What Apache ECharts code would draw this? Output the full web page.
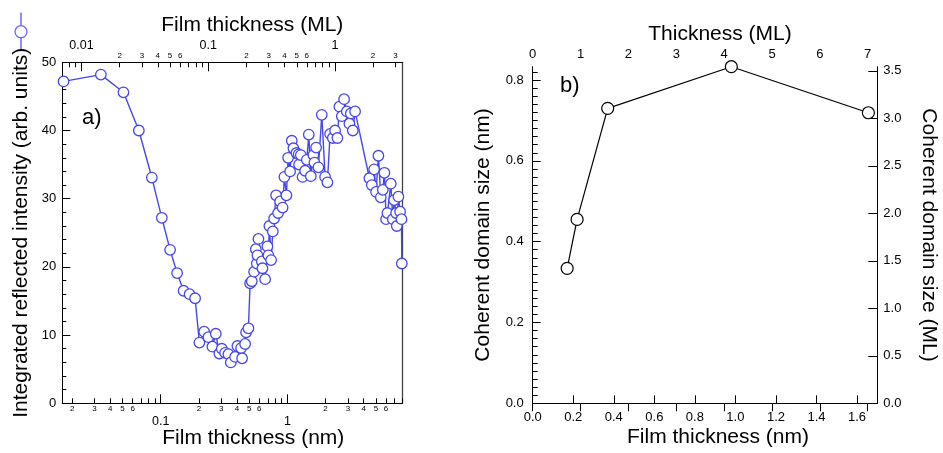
<!DOCTYPE html>
<html><head><meta charset="utf-8">
<script src="https://cdn.jsdelivr.net/npm/echarts@6/dist/echarts.min.js"></script>
<style>html,body{margin:0;padding:0;background:#fff}#c{width:943px;height:453px}</style>
</head><body><div id="c"></div>
<script>
// ---------- Panel a) data ----------
const filmNm = [0.0171,0.0337,0.0508,0.0672,0.0851,0.102,0.1186,0.1347,0.1516,0.169,0.1868,
0.202,0.2202,0.2379,0.2559,0.2721,0.2905,0.3035,0.3223,0.3422,0.3575,0.3865,0.403,0.4311,0.439,0.4636,0.4721,0.4923,
0.5077,0.5236,0.5461,0.5632,0.5736,0.5799,0.5906,0.6281,0.635,0.6668,0.6952,0.7079,0.7209,0.7436,0.767,0.7853,
0.8144,0.8445,0.8757,0.9165,0.9469,0.982,1.013,1.05,1.083,1.115,1.178,1.226,1.237,1.276,1.318,1.38,1.423,1.475,
1.53,1.604,1.633,1.685,1.757,1.868,1.984,2.069,2.173,2.282,2.379,2.481,2.573,2.688,2.803,2.943,3.086,3.165,3.282,3.422,
4.438,4.636,4.834,5.013,5.226,5.46,5.662,5.829,6.012,6.157,6.549,6.791,6.953,7.211,7.304,7.518,7.753,7.95,8.0];
const intensity = [47.2,48.2,45.6,40.0,33.1,27.2,22.5,19.1,16.5,16.0,15.4,
8.9,10.5,9.7,8.3,10.2,7.3,8.0,7.4,7.2,6.0,6.8,8.4,8.1,6.6,8.7,10.4,11.0,
17.6,17.9,19.3,22.6,20.5,21.7,24.1,20.8,19.8,18.2,23.0,21.7,26.0,21.0,25.2,27.1,
30.5,27.9,29.6,28.7,33.2,30.5,36.0,34.0,38.5,37.4,36.7,36.5,35.0,36.4,33.2,34.1,35.7,39.4,
33.3,36.4,35.3,37.5,34.6,42.3,33.2,32.4,39.5,38.9,40.0,38.9,43.5,42.1,44.6,42.8,41.0,42.5,40.0,42.8,
33.0,32.0,34.3,31.0,36.3,30.2,31.3,33.8,27.0,27.9,32.2,27.0,29.8,27.9,26.0,30.3,28.1,27.0,20.5];

// axis ticks panel a)
const nmMajorTicks = [0.1, 1];
const nmMinorTicks = [0.02,0.03,0.04,0.05,0.06,0.07,0.08,0.09,0.2,0.3,0.4,0.5,0.6,0.7,0.8,0.9,2,3,4,5,6,7,8];
const nmMinorLabels = [0.02,0.03,0.04,0.05,0.06,0.2,0.3,0.4,0.5,0.6,2,3,4,5,6];
const mlMajorTicks = [0.01, 0.1, 1];
const mlMinorTicks = [0.008,0.009,0.02,0.03,0.04,0.05,0.06,0.07,0.08,0.09,0.2,0.3,0.4,0.5,0.6,0.7,0.8,0.9,2,3];
const mlMinorLabels = [0.02,0.03,0.04,0.05,0.06,0.2,0.3,0.4,0.5,0.6,2,3];

// ---------- Panel b) data ----------
const filmNmB = [0.170, 0.219, 0.370, 0.980, 1.656];
const domainNm = [0.334, 0.455, 0.730, 0.833, 0.719];
const bBottomTicks = [0,0.2,0.4,0.6,0.8,1.0,1.2,1.4,1.6];
const bTopTicks = [0,1,2,3,4,5,6,7];
const bLeftTicks = [0,0.2,0.4,0.6,0.8];
const bRightTicks = [0,0.5,1.0,1.5,2.0,2.5,3.0,3.5];
const bLeftMinor = [];
for (let i = 0; i <= 41; i++) bLeftMinor.push(+(i*0.02).toFixed(2));

const FONT = '"Liberation Sans", Arial, Helvetica, sans-serif';
const BLK = '#000';
const BLUE = '#4646ee';

const majorFmt = v => v >= 1 ? String(Math.round(v)) : String(+v.toPrecision(1));
const minorFmt = v => String(Math.round(v / Math.pow(10, Math.floor(Math.log10(v) + 1e-9))));
const f1 = v => (+v).toFixed(1);

const nmMin = 0.01672, nmMax = 8.07;
const mlMin = 0.00705, mlMax = 3.403;

function lbl(o) { return Object.assign({color: BLK, fontFamily: FONT, showMinLabel: true, showMaxLabel: true}, o); }
function nameStyle(o) { return Object.assign({color: BLK, fontFamily: FONT, fontSize: 21, lineHeight: 21}, o || {}); }
const line = {show: true, lineStyle: {color: BLK, width: 1}};
const noLine = {show: false};

const chart = echarts.init(document.getElementById('c'), null, {renderer: 'canvas'});
chart.setOption({
  animation: false,
  backgroundColor: '#fff',
  grid: [
    {left: 62.3, right: 943 - 402.3, top: 62.3, bottom: 453 - 403.3, outerBoundsMode: 'none'},
    {left: 532.7, right: 943 - 877.3, top: 66.7, bottom: 453 - 403.3, outerBoundsMode: 'none'}
  ],
  xAxis: [
    // 0: bottom nm major (data axis)
    {type: 'log', logBase: 10, gridIndex: 0, position: 'bottom', min: nmMin, max: nmMax,
     axisLine: line, splitLine: {show: false},
     axisTick: {inside: true, length: 9, customValues: nmMajorTicks, lineStyle: {color: BLK}},
     axisLabel: lbl({customValues: nmMajorTicks, formatter: majorFmt, fontSize: 12.5, margin: 12}),
     name: 'Film thickness (nm)', nameLocation: 'middle', nameGap: 24.5, nameMoveOverlap: false,
     nameTextStyle: nameStyle({padding: [0, 0, 0, 42]})},
    // 1: bottom nm minor
    {type: 'log', logBase: 10, gridIndex: 0, position: 'bottom', min: nmMin, max: nmMax,
     axisLine: noLine, splitLine: {show: false},
     axisTick: {inside: true, length: 5, customValues: nmMinorTicks, lineStyle: {color: BLK}},
     axisLabel: lbl({customValues: nmMinorLabels, formatter: minorFmt, fontSize: 8, margin: 1.5})},
    // 2: top ML major
    {type: 'log', logBase: 10, gridIndex: 0, position: 'top', min: mlMin, max: mlMax,
     axisLine: line, splitLine: {show: false},
     axisTick: {inside: true, length: 9, customValues: mlMajorTicks, lineStyle: {color: BLK}},
     axisLabel: lbl({customValues: mlMajorTicks, formatter: majorFmt, fontSize: 12.5, margin: 10}),
     name: 'Film thickness (ML)', nameLocation: 'middle', nameGap: 27, nameMoveOverlap: false,
     nameTextStyle: nameStyle({padding: [0, 0, 0, 40]})},
    // 3: top ML minor
    {type: 'log', logBase: 10, gridIndex: 0, position: 'top', min: mlMin, max: mlMax,
     axisLine: noLine, splitLine: {show: false},
     axisTick: {inside: true, length: 5, customValues: mlMinorTicks, lineStyle: {color: BLK}},
     axisLabel: lbl({customValues: mlMinorLabels, formatter: minorFmt, fontSize: 8, margin: 3})},
    // 4: panel b bottom nm
    {type: 'value', gridIndex: 1, position: 'bottom', min: 0, max: 1.7,
     axisLine: line, splitLine: {show: false},
     axisTick: {inside: true, length: 8, customValues: bBottomTicks, lineStyle: {color: BLK}},
     axisLabel: lbl({customValues: bBottomTicks, formatter: f1, fontSize: 13, margin: 7.5}),
     name: 'Film thickness (nm)', nameLocation: 'middle', nameGap: 23, nameMoveOverlap: false,
     nameTextStyle: nameStyle({padding: [0, 0, 0, 26]})},
    // 5: panel b top ML
    {type: 'value', gridIndex: 1, position: 'top', min: 0, max: 7.2,
     axisLine: line, splitLine: {show: false},
     axisTick: {inside: true, length: 8, customValues: bTopTicks, lineStyle: {color: BLK}},
     axisLabel: lbl({customValues: bTopTicks, formatter: v => String(Math.round(v)), fontSize: 13, margin: 6}),
     name: 'Thickness (ML)', nameLocation: 'middle', nameGap: 22, nameMoveOverlap: false,
     nameTextStyle: nameStyle({padding: [0, 0, 0, 30]})}
  ],
  yAxis: [
    // 0: panel a left
    {type: 'value', gridIndex: 0, position: 'left', min: 0, max: 50, interval: 10,
     axisLine: line, splitLine: {show: false},
     axisTick: {inside: true, length: 8, lineStyle: {color: BLK}},
     minorTick: {show: true, splitNumber: 5, length: 4, lineStyle: {color: BLK}},
     axisLabel: lbl({fontSize: 13, margin: 6}),
     name: 'Integrated reflected intensity (arb. units)', nameLocation: 'middle', nameGap: 31, nameMoveOverlap: false,
     nameTextStyle: nameStyle()},
    // 1: panel a right frame
    {type: 'value', gridIndex: 0, position: 'right', min: 0, max: 50,
     axisLine: {show: true, lineStyle: {color: '#444', width: 1.3}}, splitLine: {show: false},
     axisTick: {show: false}, axisLabel: {show: false}},
    // 2: panel b left nm
    {type: 'value', gridIndex: 1, position: 'left', min: 0, max: 0.833,
     axisLine: line, splitLine: {show: false},
     axisTick: {inside: true, length: 8, customValues: bLeftTicks, lineStyle: {color: BLK}},
     axisLabel: lbl({customValues: bLeftTicks, formatter: f1, fontSize: 13, margin: 9}),
     name: 'Coherent domain size (nm)', nameLocation: 'middle', nameGap: 39, nameMoveOverlap: false,
     nameTextStyle: nameStyle()},
    // 3: panel b left minor ticks
    {type: 'value', gridIndex: 1, position: 'left', min: 0, max: 0.833,
     axisLine: noLine, splitLine: {show: false},
     axisTick: {inside: true, length: 5, customValues: bLeftMinor, lineStyle: {color: BLK}},
     axisLabel: {show: false}},
    // 4: panel b right ML
    {type: 'value', gridIndex: 1, position: 'right', min: 0, max: 3.543,
     axisLine: line, splitLine: {show: false},
     axisTick: {inside: true, length: 9, customValues: bRightTicks, lineStyle: {color: BLK}},
     axisLabel: lbl({customValues: bRightTicks, formatter: f1, fontSize: 13, margin: 6}),
     name: 'Coherent domain size (ML)', nameLocation: 'middle', nameGap: 41, nameRotate: -90, nameMoveOverlap: false,
     nameTextStyle: nameStyle()}
  ],
  series: [
    {type: 'line', xAxisIndex: 0, yAxisIndex: 0, clip: false,
     data: filmNm.map((x, i) => [x, intensity[i]]),
     symbol: 'circle', symbolSize: 10.5, showAllSymbol: true,
     lineStyle: {color: BLUE, width: 1.4},
     itemStyle: {color: '#fff', borderColor: BLUE, borderWidth: 1.3}},
    {type: 'line', xAxisIndex: 4, yAxisIndex: 2, clip: false,
     data: filmNmB.map((x, i) => [x, domainNm[i]]),
     symbol: 'circle', symbolSize: 12, showAllSymbol: true,
     lineStyle: {color: BLK, width: 1.2},
     itemStyle: {color: '#fff', borderColor: BLK, borderWidth: 1.2}}
  ],
  graphic: [
    {type: 'text', left: 82, top: 107, style: {text: 'a)', font: '22px ' + FONT, fill: BLK}},
    {type: 'text', left: 560, top: 75, style: {text: 'b)', font: '22px ' + FONT, fill: BLK}},
    {type: 'line', shape: {x1: 21, y1: 12.5, x2: 21, y2: 50}, style: {stroke: '#6a6af8', lineWidth: 1.5}},
    {type: 'circle', shape: {cx: 21, cy: 31.7, r: 6}, style: {fill: '#fff', stroke: '#6a6af8', lineWidth: 1.3}}
  ]
});
</script>
</body></html>
